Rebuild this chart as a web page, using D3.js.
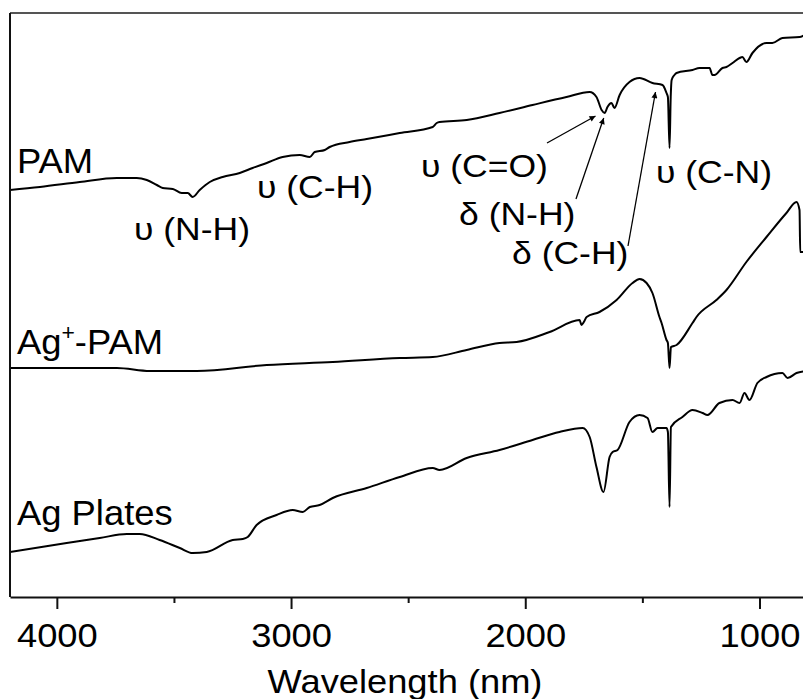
<!DOCTYPE html>
<html>
<head>
<meta charset="utf-8">
<script src="https://cdn.jsdelivr.net/npm/d3@7"></script>
<style>
  body { margin: 0; background: #fff; }
  text { font-family: "Liberation Sans", Arial, sans-serif; fill: #000; }
</style>
</head>
<body>
<div id="chart"></div>
<script>
// spectra, wavenumber vs transmittance (a.u.)
var pamWave = [4200, 4072, 3902, 3744, 3659, 3616, 3573, 3548, 3505, 3467, 3441, 3420, 3390, 3347, 3292, 3219, 3164, 3104, 3036, 2963, 2920, 2899, 2856, 2835, 2750, 2677, 2536, 2395, 2378, 2366, 2250, 2110, 1969, 1824, 1725, 1696, 1674, 1661, 1649, 1632, 1619, 1597, 1555, 1512, 1457, 1414, 1397, 1391, 1384, 1379, 1375, 1363, 1354, 1286, 1256, 1213, 1201, 1192, 1158, 1141, 1115, 1085, 1073, 1056, 1030, 970, 945, 902, 829, 800]
var pamT = [407, 410, 415, 419, 419, 417, 412, 409, 408, 404, 404, 400, 407, 415, 420, 424, 429, 434, 440, 442, 440, 445, 447, 450, 455, 458, 464, 470, 474, 475, 477, 484, 492, 500, 505, 500, 487, 484, 490, 494, 489, 502, 515, 519, 514, 512, 504, 500, 449, 500, 517, 522, 524, 527, 529, 529, 522, 522, 529, 530, 534, 539, 540, 535, 544, 554, 554, 559, 560, 563]

var agIonWave = [4200, 3744, 3603, 3403, 3104, 2822, 2536, 2395, 2250, 2110, 2037, 1896, 1768, 1760, 1750, 1738, 1683, 1610, 1542, 1512, 1482, 1457, 1427, 1418, 1397, 1391, 1384, 1378, 1354, 1286, 1269, 1184, 1141, 1056, 970, 885, 842, 829, 826, 800]
var agIonT = [229, 229, 226, 226, 232, 235, 239, 240, 247, 254, 255, 265, 277, 272, 275, 280, 285, 297, 314, 318, 314, 304, 280, 274, 257, 254, 229, 250, 252, 274, 280, 297, 307, 335, 360, 384, 395, 387, 345, 345]

var agPlateWave = [4200, 3958, 3817, 3701, 3646, 3561, 3475, 3420, 3360, 3249, 3206, 3185, 3147, 3062, 2993, 2950, 2920, 2878, 2822, 2677, 2536, 2395, 2366, 2250, 2110, 1969, 1854, 1755, 1725, 1696, 1666, 1640, 1627, 1606, 1555, 1512, 1478, 1457, 1435, 1397, 1391, 1384, 1378, 1329, 1286, 1243, 1222, 1171, 1115, 1085, 1064, 1043, 1009, 970, 902, 880, 842, 800]
var agPlateT = [45, 54, 59, 63, 63, 57, 49, 44, 45, 57, 58, 60, 72, 82, 87, 85, 90, 92, 99, 109, 120, 129, 127, 139, 147, 157, 165, 169, 160, 130, 105, 140, 145, 147, 175, 182, 179, 165, 169, 169, 165, 90, 170, 180, 187, 184, 182, 194, 197, 194, 204, 197, 214, 220, 224, 219, 224, 226]

var xTicks = [4000, 3000, 2000, 1000]
var xMinorTicks = [3500, 2500, 1500]

var seriesLabels = [
    {text: "PAM", x: 17, y: 173},
    {text: "Ag", sup: "+", rest: "-PAM", x: 17, y: 354},
    {text: "Ag Plates", x: 17, y: 525}
]
var peakLabels = [
    {text: "\u03c5 (N-H)", x: 134, y: 240},
    {text: "\u03c5 (C-H)", x: 257, y: 198},
    {text: "\u03c5 (C=O)", x: 421, y: 177},
    {text: "\u03c5 (C-N)", x: 656, y: 183},
    {text: "\u03b4 (N-H)", x: 459, y: 225},
    {text: "\u03b4 (C-H)", x: 512, y: 264}
]
// arrows: from label to band (wavenumber, a.u.)
var arrows = [
    {x1: 547, y1: 143, w: 1700, t: 481},
    {x1: 576, y1: 199, w: 1665, t: 479},
    {x1: 628, y1: 246, w: 1444, t: 505}
]

const width = 803, height = 699
const mLeft = 10, mTop = 13, mBottom = 597

var svg = d3.select("#chart").append("svg").attr("width", width).attr("height", height)

var x = d3.scaleLinear().domain([4200, 400]).range([mLeft, 900])
var y = d3.scaleLinear().domain([0, 585]).range([mBottom, mBottom - 585])

var defs = svg.append("defs")
defs.append("clipPath").attr("id", "clip")
    .append("rect").attr("x", mLeft).attr("y", mTop).attr("width", width - mLeft).attr("height", mBottom - mTop)

defs.append("marker").attr("id", "arrow")
    .attr("viewBox", "0 0 10 10").attr("refX", 10).attr("refY", 5)
    .attr("markerWidth", 8).attr("markerHeight", 6).attr("markerUnits", "userSpaceOnUse")
    .attr("orient", "auto")
    .append("path").attr("d", "M0,0 L10,5 L0,10 z").attr("fill", "#000")

var line = d3.line().x(d => x(d[0])).y(d => y(d[1])).curve(d3.curveMonotoneX)

var plot = svg.append("g").attr("clip-path", "url(#clip)")
;[[pamWave, pamT], [agIonWave, agIonT], [agPlateWave, agPlateT]].forEach(function (s) {
    plot.append("path")
        .datum(d3.zip(s[0], s[1]))
        .attr("d", line)
        .attr("fill", "none").attr("stroke", "#000").attr("stroke-width", 2)
        .attr("stroke-linejoin", "round")
})

// frame
svg.append("line").attr("x1", mLeft).attr("x2", width).attr("y1", mTop).attr("y2", mTop)
    .attr("stroke", "#555").attr("stroke-width", 2)
svg.append("line").attr("x1", mLeft).attr("x2", mLeft).attr("y1", mTop).attr("y2", mBottom)
    .attr("stroke", "#111").attr("stroke-width", 2)

// x axis
var xAxis = svg.append("g").attr("transform", "translate(0," + mBottom + ")")
    .call(d3.axisBottom(x).tickValues(xTicks).tickFormat(d3.format("d")).tickSize(12).tickPadding(15).tickSizeOuter(0))
xAxis.select(".domain").attr("stroke", "#111").attr("stroke-width", 2)
xAxis.selectAll(".tick line").attr("stroke", "#111").attr("stroke-width", 2)
xAxis.selectAll(".tick text").attr("font-size", 33).attr("transform", "scale(1.1,1)")
    .style("font-family", "'Liberation Sans', Arial, sans-serif").attr("fill", "#000")

var minor = svg.append("g").attr("transform", "translate(0," + mBottom + ")")
    .call(d3.axisBottom(x).tickValues(xMinorTicks).tickSize(6).tickFormat(""))
minor.select(".domain").remove()
minor.selectAll(".tick line").attr("stroke", "#111").attr("stroke-width", 2)

svg.append("text").attr("transform", "translate(405,693) scale(1.1,1)").attr("text-anchor", "middle")
    .attr("font-size", 33)
    .text("Wavelength (nm)")

// series names
seriesLabels.forEach(function (d) {
    var t = svg.append("text").attr("transform", "translate(" + d.x + "," + d.y + ") scale(1.04,1)")
        .attr("font-size", 35)
    t.append("tspan").text(d.text)
    if (d.sup) {
        t.append("tspan").attr("font-size", 22).attr("dy", -14).text(d.sup)
        t.append("tspan").attr("dy", 14).text(d.rest)
    }
})

// band labels and arrows
peakLabels.forEach(function (d) {
    svg.append("text").attr("transform", "translate(" + d.x + "," + d.y + ") scale(1.11,1)")
        .attr("font-size", 32).text(d.text)
})
arrows.forEach(function (d) {
    svg.append("line").attr("x1", d.x1).attr("y1", d.y1).attr("x2", x(d.w)).attr("y2", y(d.t))
        .attr("stroke", "#000").attr("stroke-width", 1.3).attr("marker-end", "url(#arrow)")
})
</script>
</body>
</html>
